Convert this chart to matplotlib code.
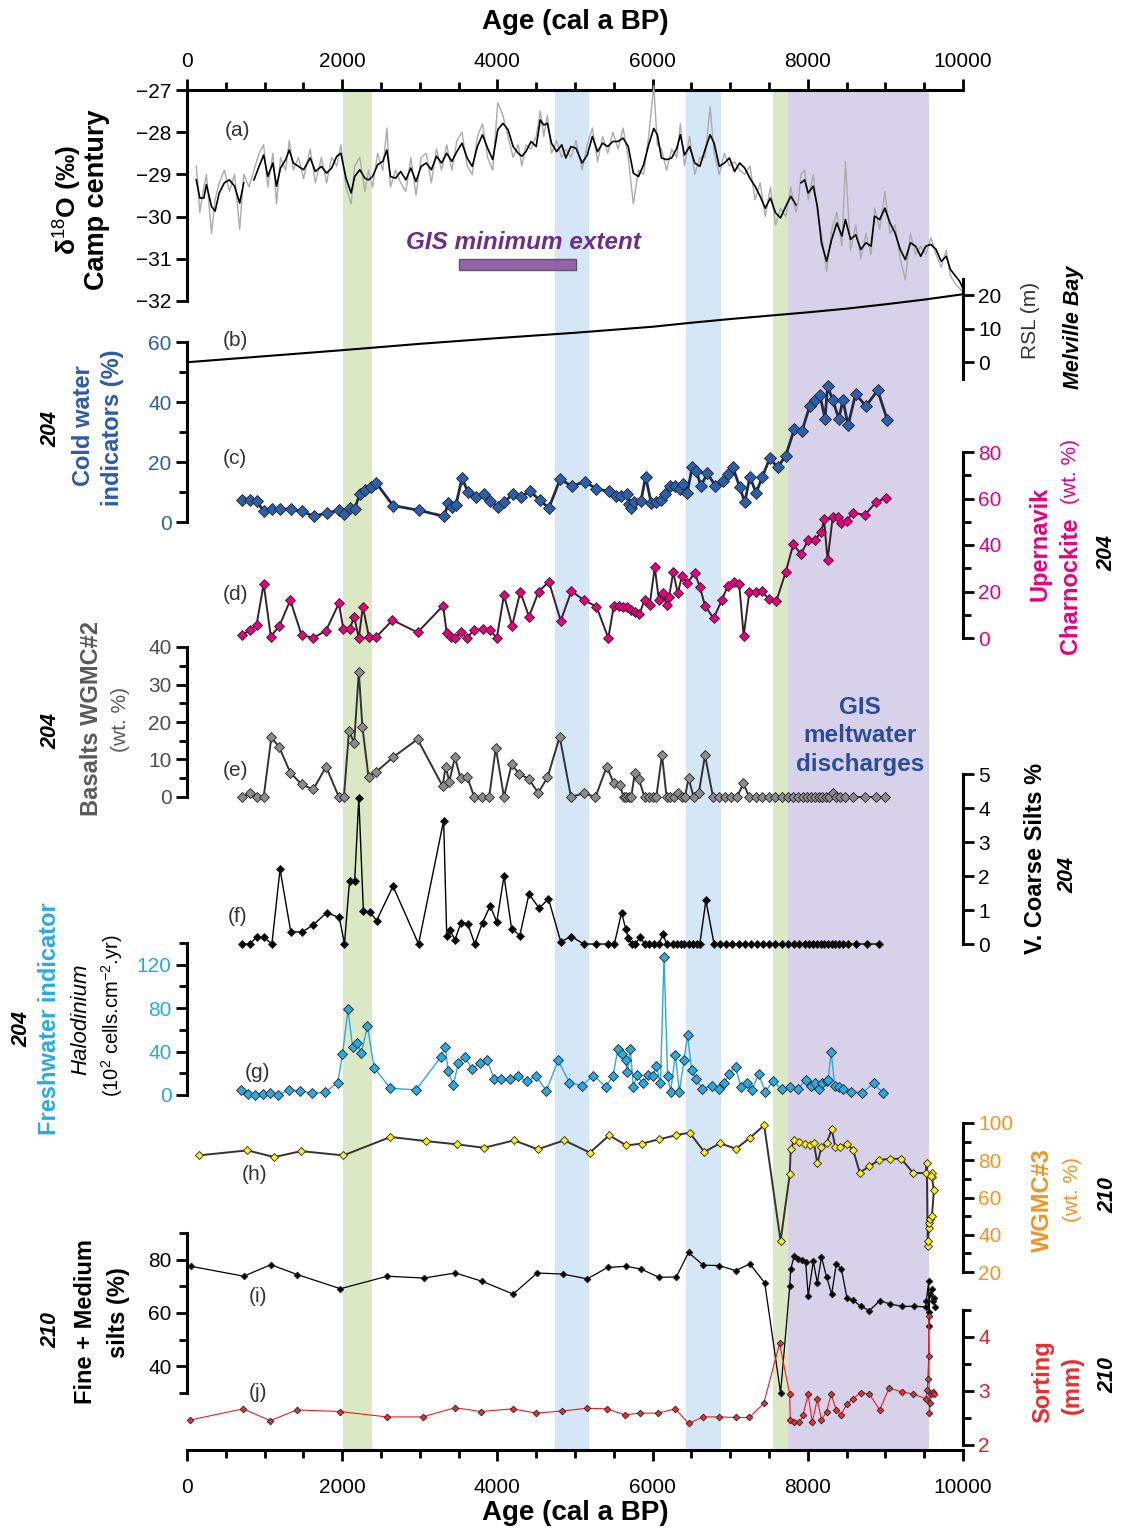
import numpy as np
import matplotlib
matplotlib.use('Agg')
import matplotlib.pyplot as plt
from matplotlib.patches import Rectangle
from matplotlib.ticker import MultipleLocator

plt.rcParams['font.family'] = ['Liberation Sans', 'DejaVu Sans']
plt.rcParams['mathtext.fontset'] = 'custom'
plt.rcParams['mathtext.rm'] = 'Liberation Sans'
plt.rcParams['mathtext.it'] = 'Liberation Sans:italic'
plt.rcParams['mathtext.bf'] = 'Liberation Sans:bold'

nan = np.nan

# (a) Camp Century d18O
a_age = [120, 165, 217, 250, 316, 362, 415, 481, 547, 613, 679, 731, 800, 863, 929, 988, 1041, 1107, 1153, 1205,
         1271, 1318, 1370, 1436, 1502, 1588, 1654, 1733, 1799, 1864, 1930, 1983, 2049, 2115, 2161, 2227, 2293, 2339, 2391, 2457,
         2523, 2576, 2622, 2688, 2754, 2820, 2885, 2951, 3017, 3083, 3149, 3215, 3281, 3347, 3413, 3478, 3544, 3610, 3676, 3742,
         3808, 3874, 3940, 4005, 4071, 4137, 4203, 4269, 4315, 4368, 4434, 4500, 4552, 4598, 4644, 4697, 4763, 4829, 4882, 4947,
         5013, 5092, 5158, 5224, 5290, 5356, 5422, 5488, 5554, 5620, 5686, 5752, 5818, 5884, 5949, 6015, 6061, 6114, 6180, 6246,
         6312, 6358, 6411, 6477, 6543, 6609, 6675, 6741, 6793, 6859, 6925, 6990, 7056, 7122, 7188, 7254, 7320, 7386, 7452, 7518,
         7584, 7649, 7715, 7781, 7847, 7880, 7912, 7959, 8005, 8071, 8123, 8176, 8242, 8308, 8374, 8439, 8485, 8551, 8617, 8683,
         8749, 8815, 8861, 8927, 8993, 9059, 9125, 9191, 9257, 9323, 9389, 9455, 9521, 9587, 9653, 9719, 9784, 9837, 9903, 9956,
         10000]
a_smooth = [-29.13, -29.56, -29.56, -29.24, -29.76, -29.87, -29.44, -29.2, -29.13, -29.28,
            -29.68, -29.2, nan, -29.13, -28.81, -28.54, -29.05, -28.73, -29.28, -28.85,
            -28.65, -28.42, -28.73, -28.81, -28.89, -28.61, -28.93, -28.81, -28.97, -28.85,
            -28.57, -28.5, -29.09, -29.44, -29.05, -28.89, -29.09, -29.13, -29.05, -28.77,
            -28.69, -28.42, -29.05, -29.09, -28.93, -29.13, -28.85, -29.17, -28.81, -28.73,
            -28.89, -28.57, -28.73, -28.5, -28.69, -28.46, -28.26, -28.61, -28.81, -28.34,
            -28.06, -28.38, -28.65, -27.94, -27.79, -27.94, -28.34, -28.5, -28.57, -28.46,
            -28.22, -28.34, -27.71, -27.83, -27.79, -28.26, -28.46, -28.3, -28.61, -28.34,
            -28.38, -28.73, -28.54, -28.1, -28.46, -28.26, -28.34, -28.22, -28.22, -28.14,
            -28.34, -28.97, -29.05, -28.77, -28.3, -27.91, -28.06, -28.61, -28.65, -28.61,
            -28.38, -28.06, -28.54, -28.34, -28.73, -28.81, -28.42, -28.06, -28.26, -28.81,
            -28.73, -28.61, -28.93, -28.73, -28.85, -29.09, -29.28, -29.52, -29.8, -29.56,
            -29.91, -30.03, -29.76, -29.52, -29.72, nan, -29.2, -29.13, -29.44, -29.28,
            -29.76, -30.62, -31.06, -30.54, -30.15, -30.46, -30.07, -30.54, -30.43, -30.78,
            -30.62, -30.7, -29.99, -30.07, -29.8, -30.15, -30.39, -30.78, -31.02, -30.62,
            -30.7, -30.94, -30.7, -30.66, -30.78, -31.06, -30.94, -31.25, -31.41, -31.53,
            -31.7]
a_raw = [-28.8, -29.9, -29.3, -29.0, -30.4, -29.6, -29.2, -28.9, -29.4, -29.0,
         -30.3, -29.0, -29.3, -28.9, -28.5, -28.3, -29.3, -28.5, -29.7, -28.6,
         -28.9, -28.2, -28.9, -28.6, -29.1, -28.4, -29.2, -28.6, -29.2, -28.6,
         -28.8, -28.3, -29.3, -29.7, -28.8, -28.6, -29.4, -28.9, -29.3, -28.5,
         -28.9, -27.9, -29.3, -28.9, -29.2, -29.4, -28.6, -29.5, -28.6, -28.5,
         -29.2, -28.4, -28.9, -28.3, -28.9, -28.2, -28.0, -28.8, -29.0, -28.1,
         -27.8, -28.6, -28.9, -27.3, -27.6, -28.1, -28.6, -28.3, -28.8, -28.3,
         -28.4, -28.1, -27.5, -28.1, -27.6, -28.5, -28.2, -28.6, -28.4, -28.6,
         -28.2, -28.9, -28.3, -27.9, -28.7, -28.1, -28.5, -28.0, -28.4, -27.9,
         -28.6, -29.7, -28.9, -29.0, -28.1, -26.9, -28.3, -28.4, -28.9, -28.4,
         -28.6, -27.8, -28.8, -28.1, -29.0, -28.6, -28.6, -27.4, -28.5, -29.0,
         -28.5, -28.8, -28.7, -28.9, -29.0, -28.8, -29.6, -29.2, -30.0, -29.3,
         -30.2, -29.8, -30.0, -29.3, -29.9, -29.6, -29.0, -28.9, -29.6, -29.0,
         -29.9, -30.4, -31.3, -30.3, -29.9, -30.7, -28.7, -30.8, -30.2, -31.0,
         -30.4, -30.9, -29.8, -30.3, -29.4, -30.4, -30.2, -31.0, -31.5, -30.4,
         -30.9, -30.7, -30.9, -30.5, -30.9, -31.2, -30.8, -31.4, -31.6, -31.7,
         -31.8]

# (b) RSL Melville Bay
rsl_age = [0, 1000, 2000, 3000, 4000, 5000, 6000, 6500, 7000, 7500, 8000, 8500, 9000, 9500, 10000]
rsl_val = [0, 1.8, 3.6, 5.5, 7.2, 8.8, 10.6, 11.8, 12.9, 13.9, 14.9, 16.0, 17.3, 18.7, 20.3]

# (c) cold water indicators
c_age = [711, 810, 896, 988, 1094, 1199, 1337, 1482, 1634, 1799, 1963, 2029, 2095, 2161, 2227, 2293, 2365, 2438, 2655, 2984,
         3314, 3366, 3413, 3465, 3544, 3623, 3722, 3821, 3907, 4005, 4085, 4203, 4302, 4421, 4546, 4664, 4809, 4961, 5126, 5277,
         5435, 5534, 5587, 5666, 5699, 5725, 5765, 5850, 5910, 5982, 6048, 6114, 6160, 6226, 6292, 6358, 6398, 6444, 6510, 6562,
         6622, 6707, 6806, 6904, 6970, 7036, 7122, 7188, 7254, 7333, 7412, 7511, 7610, 7715, 7826, 7926, 8024, 8090, 8156, 8222,
         8255, 8321, 8400, 8453, 8519, 8617, 8749, 8900, 9026]
c_val = [7.4, 7.4, 7.0, 3.6, 4.4, 4.4, 4.2, 3.6, 1.9, 3.0, 3.9, 2.8, 4.7, 4.4, 9.4, 10.7, 11.8, 13.0, 5.5, 3.9,
         1.9, 6.3, 5.0, 5.7, 14.6, 9.9, 8.5, 9.2, 7.0, 5.0, 6.6, 9.4, 8.3, 10.3, 7.2, 4.7, 14.3, 11.9, 13.5, 11.0,
         10.3, 8.8, 8.8, 9.2, 6.1, 4.7, 6.6, 7.0, 15.1, 6.3, 6.6, 7.4, 9.4, 12.1, 12.1, 11.0, 12.7, 9.6, 18.2, 17.1,
         12.1, 16.2, 12.1, 13.6, 16.0, 18.2, 11.6, 6.6, 15.1, 9.7, 14.9, 21.3, 18.2, 22.1, 30.9, 30.4, 38.6, 40.8, 42.3, 34.5,
         45.3, 40.6, 34.5, 40.6, 32.3, 42.7, 38.6, 43.9, 33.9]

# (d) Upernavik charnockite
d_age = [711, 810, 896, 988, 1080, 1192, 1331, 1476, 1627, 1792, 1957, 2016, 2095, 2154, 2214, 2266, 2345, 2438, 2648, 2971,
         3301, 3347, 3400, 3452, 3531, 3610, 3696, 3808, 3907, 3992, 4085, 4190, 4295, 4407, 4532, 4664, 4816, 4954, 5112, 5277,
         5429, 5501, 5567, 5620, 5672, 5718, 5771, 5830, 5896, 5962, 6028, 6081, 6134, 6180, 6213, 6266, 6325, 6378, 6444, 6543,
         6609, 6675, 6786, 6892, 6970, 7043, 7115, 7174, 7247, 7333, 7412, 7497, 7596, 7715, 7813, 7912, 8005, 8090, 8176, 8209,
         8255, 8321, 8387, 8433, 8499, 8584, 8736, 8881, 9006]
d_val = [1.3, 3.4, 5.6, 23.3, 0.6, 5.3, 16.3, 1.3, 0.0, 3.2, 14.9, 3.7, 3.7, 9.2, 0.0, 13.5, 0.4, 0.4, 7.7, 2.4,
         13.9, 2.0, 0.4, 0.0, 2.7, 0.0, 3.4, 3.7, 3.4, 0.0, 18.5, 5.3, 19.9, 9.2, 20.0, 24.2, 7.4, 20.2, 16.3, 13.5,
         0.0, 13.9, 13.9, 13.5, 13.2, 12.0, 11.3, 10.3, 16.3, 14.2, 30.4, 16.3, 19.2, 14.2, 17.8, 28.3, 19.2, 26.7, 23.5, 28.0,
         22.1, 13.9, 8.4, 16.3, 22.5, 24.2, 23.3, 1.0, 19.9, 19.9, 20.2, 16.6, 16.0, 28.3, 40.3, 36.1, 42.1, 42.1, 45.7, 51.2,
         33.5, 51.9, 51.9, 49.3, 50.5, 53.9, 52.9, 58.6, 60.1]

# (e) basalts WGMC#2
e_age = [711, 810, 896, 988, 1087, 1186, 1331, 1476, 1627, 1792, 1957, 2022, 2088, 2154, 2214, 2260, 2339, 2438, 2655, 2971,
         3294, 3334, 3380, 3452, 3525, 3610, 3702, 3801, 3894, 3979, 4085, 4183, 4282, 4401, 4526, 4645, 4803, 4948, 5112, 5264,
         5409, 5501, 5580, 5626, 5659, 5692, 5725, 5771, 5824, 5896, 5949, 6002, 6048, 6121, 6180, 6226, 6279, 6325, 6378, 6417,
         6463, 6529, 6595, 6675, 6779, 6858, 6937, 7016, 7089, 7168, 7247, 7333, 7412, 7497, 7583, 7662, 7741, 7813, 7880, 7939,
         7991, 8044, 8090, 8143, 8189, 8235, 8275, 8321, 8367, 8420, 8485, 8584, 8736, 8881, 8993]
e_val = [0.0, 1.0, 0.0, 0.0, 15.9, 13.4, 6.5, 3.4, 2.0, 8.1, 0.0, 0.0, 17.7, 14.3, 33.4, 18.7, 5.4, 6.7, 10.6, 15.4,
         2.9, 8.1, 4.1, 10.6, 5.0, 5.4, 0.0, 0.0, 0.0, 13.1, 0.0, 8.7, 6.1, 4.9, 1.1, 5.2, 16.1, 0.0, 1.0, 0.0,
         8.1, 3.6, 3.1, 0.0, 0.0, 0.0, 0.0, 6.5, 4.7, 0.0, 0.0, 0.0, 0.0, 11.2, 0.0, 0.0, 0.0, 1.0, 0.0, 0.0,
         5.0, 0.0, 1.0, 11.1, 0.0, 0.0, 0.0, 0.0, 0.0, 3.6, 0.0, 0.0, 0.0, 0.0, 0.0, 0.0, 0.0, 0.0, 0.0, 0.0,
         0.0, 0.0, 0.0, 0.0, 0.0, 0.0, 0.0, 1.1, 0.0, 0.0, 0.0, 0.0, 0.0, 0.0, 0.0]

# (f) very coarse silts
f_age = [711, 810, 896, 988, 1094, 1199, 1337, 1482, 1627, 1799, 1963, 2029, 2095, 2161, 2214, 2273, 2352, 2444, 2655, 2984,
         3307, 3347, 3393, 3452, 3531, 3617, 3709, 3808, 3907, 3992, 4085, 4183, 4289, 4407, 4539, 4658, 4816, 4954, 5112, 5270,
         5422, 5507, 5600, 5653, 5686, 5732, 5771, 5844, 5896, 5949, 6015, 6081, 6134, 6180, 6259, 6312, 6364, 6411, 6463, 6516,
         6569, 6608, 6687, 6792, 6871, 6950, 7029, 7108, 7188, 7267, 7346, 7425, 7504, 7583, 7662, 7741, 7820, 7893, 7959, 8018,
         8071, 8123, 8169, 8215, 8262, 8308, 8354, 8400, 8453, 8519, 8617, 8762, 8914]
f_val = [0.0, 0.0, 0.2, 0.2, 0.0, 2.2, 0.36, 0.35, 0.56, 0.92, 0.78, 0.0, 1.86, 1.86, 4.3, 0.97, 0.95, 0.69, 1.7, 0.0,
         3.63, 0.25, 0.4, 0.12, 0.63, 0.6, 0.0, 0.63, 1.12, 0.65, 2.0, 0.45, 0.25, 1.47, 1.05, 1.33, 0.07, 0.22, 0.0, 0.0,
         0.0, 0.0, 0.92, 0.45, 0.18, 0.0, 0.0, 0.2, 0.0, 0.0, 0.0, 0.0, 0.3, 0.0, 0.0, 0.0, 0.0, 0.0, 0.0, 0.0,
         0.0, 0.0, 1.28, 0.0, 0.0, 0.0, 0.0, 0.0, 0.0, 0.0, 0.0, 0.0, 0.0, 0.0, 0.0, 0.0, 0.0, 0.0, 0.0, 0.0,
         0.0, 0.0, 0.0, 0.0, 0.0, 0.0, 0.0, 0.0, 0.0, 0.0, 0.0, 0.0, 0.0]

# (g) Halodinium
g_age = [691, 790, 876, 975, 1074, 1173, 1318, 1456, 1614, 1779, 1943, 2003, 2075, 2134, 2194, 2247, 2326, 2411, 2622, 2951,
         3274, 3327, 3366, 3432, 3498, 3577, 3676, 3775, 3867, 3959, 4051, 4157, 4269, 4381, 4500, 4631, 4783, 4928, 5086, 5237,
         5396, 5488, 5554, 5607, 5653, 5673, 5712, 5752, 5804, 5870, 5936, 6002, 6048, 6101, 6147, 6193, 6233, 6292, 6345, 6404,
         6450, 6503, 6562, 6641, 6760, 6859, 6925, 6990, 7069, 7135, 7214, 7280, 7366, 7452, 7550, 7662, 7774, 7873, 7972, 8044,
         8090, 8143, 8189, 8242, 8262, 8301, 8347, 8400, 8453, 8551, 8703, 8848, 8966]
g_val = [4.7, 0.6, 0.0, 0.6, 2.2, 0.0, 4.7, 4.0, 1.6, 2.5, 11.5, 37.4, 78.8, 44.2, 47.7, 39.0, 63.2, 25.0, 6.2, 4.7,
         35.2, 44.5, 22.4, 9.3, 29.6, 35.2, 24.0, 29.6, 32.1, 14.6, 14.6, 14.6, 17.1, 12.5, 17.1, 4.0, 31.8, 11.5, 8.7, 17.8,
         7.8, 17.1, 42.7, 38.0, 32.1, 20.9, 42.7, 7.8, 18.1, 10.6, 18.1, 17.1, 27.1, 10.6, 127.0, 17.1, 3.1, 37.1, 3.1, 31.8,
         55.4, 22.7, 14.6, 5.6, 8.7, 5.6, 11.5, 19.6, 25.9, 7.8, 11.5, 4.7, 19.3, 3.1, 12.5, 5.6, 7.8, 5.6, 13.4, 8.7,
         11.5, 5.3, 10.6, 12.5, 14.0, 39.5, 8.7, 7.8, 5.3, 3.1, 2.2, 10.6, 2.2]

# (h) WGMC#3 core 210
h_age = [151, 777, 1127, 1469, 2016, 2622, 3077, 3485, 3828, 4216, 4519, 4862, 5191, 5442, 5659, 5857, 6081, 6305, 6477, 6667,
         6865, 7075, 7254, 7438, 7649, 7767, 7780, 7826, 7893, 7959, 8024, 8077, 8123, 8176, 8242, 8308, 8354, 8420, 8505, 8584,
         8670, 8795, 8920, 9059, 9204, 9355, 9520, 9533, 9546, 9550, 9559, 9566, 9579, 9599, 9625, 9599, 9605, 9592]
h_val = [82.6, 85.3, 81.7, 84.9, 82.6, 92.5, 90.3, 88.5, 86.7, 90.7, 85.9, 90.7, 84.1, 93.4, 88.0, 88.9, 91.2, 93.5, 94.8, 84.4,
         89.1, 86.2, 92.0, 98.8, 36.6, 72.4, 85.9, 90.7, 89.8, 88.5, 88.0, 89.4, 78.3, 87.1, 89.1, 96.6, 87.3, 87.3, 88.9, 85.5,
         73.3, 76.9, 80.1, 80.8, 80.8, 73.3, 73.0, 78.7, 33.9, 36.6, 43.6, 46.2, 48.6, 49.8, 63.8, 71.0, 73.3, 71.6]

# (i) fine + medium silts
i_age = [53, 731, 1080, 1423, 1977, 2583, 3050, 3459, 3801, 4203, 4513, 4842, 5158, 5422, 5659, 5850, 6081, 6305, 6463, 6654,
         6859, 7069, 7254, 7445, 7649, 7767, 7780, 7826, 7879, 7926, 7972, 8005, 8071, 8123, 8176, 8242, 8308, 8367, 8433, 8505,
         8584, 8683, 8795, 8927, 9059, 9210, 9374, 9526, 9526, 9559, 9559, 9559, 9572, 9599, 9612, 9625, 9638]
i_val = [77.5, 73.8, 78.1, 74.4, 69.1, 73.8, 73.1, 75.0, 71.9, 67.1, 75.0, 74.6, 72.8, 77.1, 77.5, 76.5, 73.4, 73.5, 82.7, 77.9,
         77.8, 75.9, 78.4, 71.3, 30.0, 70.0, 76.5, 81.5, 80.2, 79.8, 79.2, 66.5, 79.4, 71.3, 81.0, 73.5, 67.1, 78.4, 76.5, 65.6,
         64.8, 62.5, 60.9, 64.6, 63.4, 62.5, 62.5, 62.3, 64.5, 71.9, 60.4, 55.3, 67.1, 69.0, 64.5, 65.6, 62.3]

# (j) sorting
j_age = [33, 725, 1074, 1416, 1970, 2576, 3037, 3452, 3788, 4196, 4500, 4836, 5158, 5409, 5639, 5837, 6074, 6292, 6463, 6654,
         6852, 7069, 7247, 7432, 7636, 7767, 7774, 7826, 7893, 7939, 8005, 8057, 8123, 8176, 8242, 8301, 8367, 8426, 8505, 8584,
         8683, 8795, 8927, 9046, 9210, 9362, 9520, 9540, 9546, 9559, 9559, 9566, 9579, 9592, 9612, 9632]
j_val = [2.46, 2.67, 2.45, 2.65, 2.62, 2.52, 2.52, 2.69, 2.62, 2.67, 2.59, 2.63, 2.68, 2.67, 2.56, 2.59, 2.59, 2.67, 2.40, 2.52,
         2.52, 2.51, 2.51, 2.77, 3.88, 2.94, 2.46, 2.43, 2.42, 2.56, 2.94, 2.42, 2.85, 2.46, 2.62, 2.94, 2.65, 2.56, 2.76, 2.86,
         2.97, 2.94, 2.65, 3.05, 2.99, 2.94, 2.86, 3.02, 3.23, 3.65, 4.39, 2.60, 2.77, 2.95, 2.99, 2.95]

# shaded intervals (cal a BP)
green_bands = [(2010, 2390), (7557, 7741)]
blue_bands = [(4740, 5180), (6435, 6877)]
purple_band = (7741, 9567)

W, H = 1122, 1532
X0, X1 = 187, 963
fig = plt.figure(figsize=(W / 100, H / 100), dpi=100)


def fx(x):
    return x / W


def fy(y):
    return 1 - y / H


rect = [fx(X0), fy(1450), (X1 - X0) / W, (1450 - 90) / H]


def age_ticks(ax, where, pad):
    ax.set_xlim(0, 10000)
    ax.xaxis.set_major_locator(MultipleLocator(2000))
    ax.xaxis.set_minor_locator(MultipleLocator(500))
    ax.xaxis.set_ticks_position(where)
    ax.xaxis.set_label_position(where)
    ax.tick_params(axis='x', which='both', direction='out', width=2, labelsize=15, pad=pad)
    ax.tick_params(axis='x', which='major', length=8)
    ax.tick_params(axis='x', which='minor', length=6)
    ax.spines[where].set_linewidth(2.2)


# base axes: shading + top age axis
base = fig.add_axes(rect)
base.set_ylim(0, 1)
base.set_yticks([])
for s in ['left', 'right', 'bottom']:
    base.spines[s].set_visible(False)
age_ticks(base, 'top', 5.5)
for a, b in green_bands:
    base.axvspan(a, b, color='#dae9c3', lw=0)
for a, b in blue_bands:
    base.axvspan(a, b, color='#d5e6f6', lw=0)
base.axvspan(*purple_band, color='#d7d2e9', lw=0)
base.text(8673, 1 - (736 - 90) / 1360, 'GIS\nmeltwater\ndischarges', ha='center', va='center',
          fontsize=17.5, fontweight='bold', color='#2b4c9b', linespacing=1.33)
fig.text(fx(575), fy(22), 'Age (cal a BP)', fontsize=20, fontweight='bold', ha='center', va='center')

# bottom age axis
bot = fig.add_axes(rect)
bot.patch.set_visible(False)
bot.set_yticks([])
for s in ['left', 'right', 'top']:
    bot.spines[s].set_visible(False)
age_ticks(bot, 'bottom', 12.5)
bot.set_xlabel('Age (cal a BP)', fontsize=20, fontweight='bold', labelpad=2)


def panel(top, bot, lo, hi, side, color, major, minor=None):
    ax = fig.add_axes([fx(X0), fy(bot), (X1 - X0) / W, (bot - top) / H])
    ax.set_xlim(0, 10000)
    ax.set_ylim(lo, hi)
    ax.patch.set_visible(False)
    other = 'right' if side == 'left' else 'left'
    for s in ['top', 'bottom', other]:
        ax.spines[s].set_visible(False)
    ax.spines[side].set_linewidth(2.2)
    ax.set_xticks([])
    ax.yaxis.set_ticks_position(side)
    ax.yaxis.set_major_locator(MultipleLocator(major))
    if minor:
        ax.yaxis.set_minor_locator(MultipleLocator(minor))
    ax.tick_params(axis='y', which='major', direction='out', length=8, width=2,
                   labelsize=15, labelcolor=color, pad=3)
    ax.tick_params(axis='y', which='minor', direction='out', length=6, width=2)
    return ax


def series(ax, x, y, lc, mfc, ms, lw=1.1, mec='#222222', mew=0.6):
    ax.plot(x, y, '-', color=lc, lw=lw, marker='D', ms=ms, mfc=mfc, mec=mec, mew=mew, clip_on=False)


# (a)
ax_a = panel(90, 301, -32, -27, 'left', 'black', 1)
ax_a.plot(a_age, a_raw, color='#ababab', lw=1.0, clip_on=False)
ax_a.plot(a_age, a_smooth, color='black', lw=1.2, clip_on=False)
ax_a.add_patch(Rectangle((3500, -31.26), 1510, 0.26, fc='#9660aa', ec='#5a5a5a', lw=1))
ax_a.text(4330, -30.62, 'GIS minimum extent', ha='center', va='center', fontsize=17.5,
          fontweight='bold', style='italic', color='#6b2d90')

# (b)
ax_b = panel(278.5, 379, -5, 25, 'right', 'black', 10)
ax_b.set_yticks([0, 10, 20])
ax_b.plot(rsl_age, rsl_val, color='black', lw=1.5, clip_on=False)

# (c)
ax_c = panel(342, 522, 0, 60, 'left', '#2b5fab', 20, 10)
series(ax_c, c_age, c_val, '#1e2b48', '#2b5fab', 5.8, lw=2.0)

# (d)
ax_d = panel(452, 638, 0, 80, 'right', '#e5007d', 20, 10)
series(ax_d, d_age, d_val, '#3a1e2c', '#e6007e', 4.8, lw=1.4)

# (e)
ax_e = panel(647, 797, 0, 40, 'left', '#4d4d4d', 10, 5)
series(ax_e, e_age, e_val, '#333333', '#8c8c8c', 4.8, lw=1.4)

# (f)
ax_f = panel(774, 944, 0, 5, 'right', 'black', 1)
series(ax_f, f_age, f_val, 'black', 'black', 4.0, lw=1.0)

# (g)
ax_g = panel(943, 1095, 0, 140, 'left', '#27aae1', 40, 20)
series(ax_g, g_age, g_val, '#29abe2', '#29abe2', 5.0, lw=1.0)

# (h)
ax_h = panel(1123, 1272, 20, 100, 'right', '#f7941d', 20, 10)
series(ax_h, h_age, h_val, '#333333', '#fff200', 4.2, lw=1.4)

# (i)
ax_i = panel(1233, 1393, 30, 90, 'left', 'black', 20, 10)
ax_i.set_yticks([40, 60, 80])
series(ax_i, i_age, i_val, 'black', 'black', 3.4, lw=0.9)

# (j)
ax_j = panel(1310, 1445, 2, 4.5, 'right', '#ed1c24', 1, 0.5)
series(ax_j, j_age, j_val, '#ed1c24', '#e8302f', 3.4, lw=0.8)

# panel letters
letters = [('(a)', 238, 130), ('(b)', 235, 341), ('(c)', 235, 458), ('(d)', 235, 595),
           ('(e)', 235, 770), ('(f)', 238, 916), ('(g)', 257, 1073), ('(h)', 255, 1175),
           ('(i)', 258, 1296), ('(j)', 258, 1393)]
for s, x, y in letters:
    fig.text(fx(x), fy(y), s, ha='center', va='center', fontsize=15, color='#333333',
             family=['Liberation Sans Narrow', 'Liberation Sans', 'DejaVu Sans'])


def vlabel(x, y, s, size=17, color='black', weight='bold', style='normal'):
    fig.text(fx(x), fy(y), s, rotation=90, ha='center', va='center', fontsize=size,
             color=color, fontweight=weight, style=style)


# left labels
vlabel(68, 200, r'δ$^{18}$O (‰)', size=19)
vlabel(97, 200, 'Camp century', size=19.5)
vlabel(51, 429, '204', size=15.5, style='italic')
vlabel(83, 426, 'Cold water', color='#2b5ba8')
vlabel(112, 428, 'indicators (%)', color='#2b5ba8')
vlabel(51, 731, '204', size=15.5, style='italic')
vlabel(91, 718, 'Basalts WGMC#2', color='#595959')
vlabel(120, 720, '(wt. %)', size=15, color='#595959', weight='normal')
vlabel(22, 1029, '204', size=15.5, style='italic')
vlabel(50, 1019, 'Freshwater indicator', color='#29abe2')
vlabel(81, 1019, 'Halodinium', size=16, weight='normal', style='italic')
vlabel(112, 1016, r'(10$^2$ cells.cm$^{-2}$.yr)', size=14.5, weight='normal')
vlabel(51, 1330, '210', size=15.5, style='italic')
vlabel(86, 1322, 'Fine + Medium')
vlabel(118, 1313, 'silts (%)')

# right labels
vlabel(1030, 320, 'RSL (m)', size=15, weight='normal', color='#333333')
vlabel(1073, 327, 'Melville Bay', size=15.5, style='italic')
vlabel(1040, 544, 'Upernavik', color='#e6007e')
vlabel(1070, 586, 'Charnockite', color='#e6007e')
vlabel(1070, 472, '(wt. %)', size=15, weight='normal', color='#e6007e')
vlabel(1107, 553, '204', size=15.5, style='italic')
vlabel(1035, 858, 'V. Coarse Silts %')
vlabel(1068, 875, '204', size=15.5, style='italic')
vlabel(1042, 1200, 'WGMC#3', color='#f7931e')
vlabel(1072, 1190, '(wt. %)', size=15, weight='normal', color='#f7931e')
vlabel(1108, 1195, '210', size=15.5, style='italic')
vlabel(1043, 1382, 'Sorting', color='#ee2b2b')
vlabel(1072, 1385, '(mm)', color='#ee2b2b')
vlabel(1108, 1375, '210', size=15.5, style='italic')

fig.savefig('out.png', dpi=100)
